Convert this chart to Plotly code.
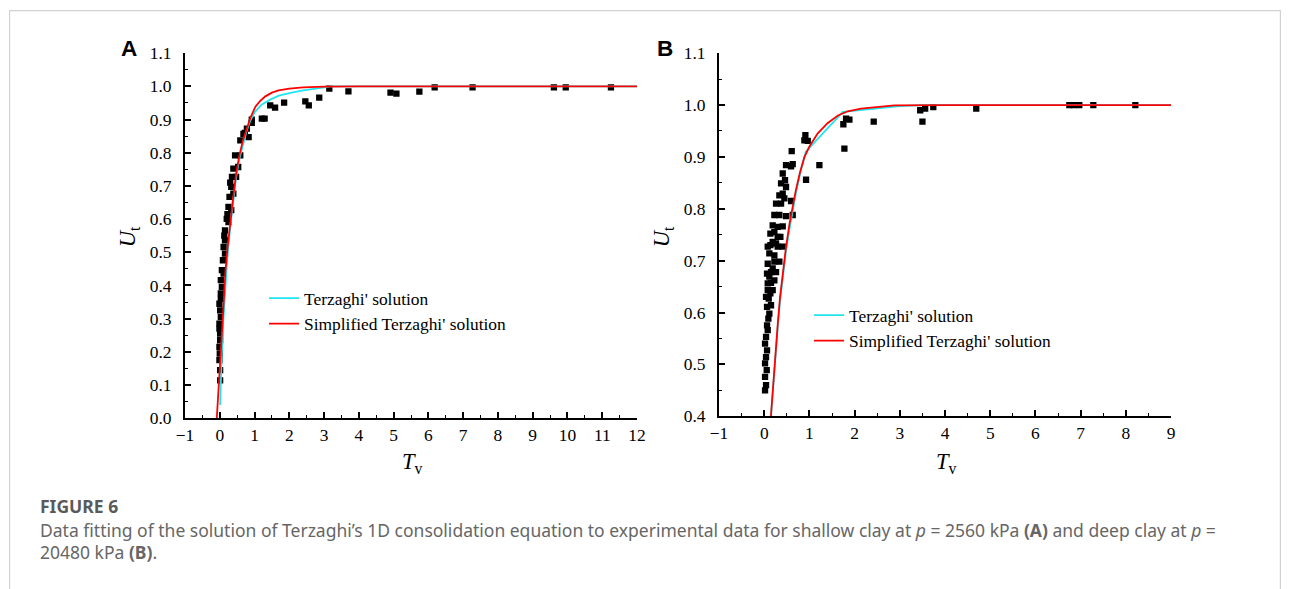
import plotly.graph_objects as go

W, H = 1290, 589

# ---------------- Panel A data ----------------
a_T = [0.01, 0.01, -0.01, 0.0, -0.01, 0.01, 0.01, -0.01, -0.01, 0.03, 0.01, -0.01, 0.03, 0.03,
       0.06, 0.03, 0.11, 0.06, 0.09, 0.15, 0.11, 0.15, 0.13, 0.15, 0.20, 0.25, 0.22, 0.25, 0.33,
       0.28, 0.39, 0.33, 0.30, 0.35, 0.47, 0.39, 0.53, 0.44, 0.59, 0.59, 0.68, 0.72, 0.83, 0.78,
       0.92, 0.92, 1.21, 1.29, 1.45, 1.59, 1.85, 2.46, 2.56, 2.86, 3.15, 3.70, 4.91, 5.08, 5.74,
       6.18, 7.27, 9.61, 9.95, 11.25]
a_U = [0.114, 0.145, 0.175, 0.195, 0.215, 0.235, 0.255, 0.27, 0.285, 0.305, 0.325, 0.345, 0.36,
       0.376, 0.396, 0.416, 0.436, 0.446, 0.476, 0.496, 0.516, 0.536, 0.55, 0.566, 0.601, 0.591,
       0.615, 0.637, 0.627, 0.667, 0.677, 0.697, 0.71, 0.727, 0.727, 0.752, 0.757, 0.792, 0.792,
       0.837, 0.857, 0.86, 0.847, 0.873, 0.89, 0.9, 0.903, 0.903, 0.943, 0.936, 0.951, 0.955,
       0.943, 0.966, 0.993, 0.985, 0.981, 0.978, 0.984, 0.997, 0.997, 0.997, 0.997, 0.997]

a_terz_T = [0.01, 0.03, 0.06, 0.10, 0.15, 0.22, 0.30, 0.38, 0.47, 0.56, 0.66, 0.76, 0.88, 1.0,
            1.2, 1.45, 1.7, 2.0, 2.4, 2.8, 3.2, 12]
a_terz_U = [0.04, 0.12, 0.20, 0.29, 0.39, 0.49, 0.575, 0.65, 0.725, 0.78, 0.825, 0.862, 0.897,
            0.922, 0.945, 0.96, 0.972, 0.98, 0.988, 0.995, 1.0, 1.0]

a_simp_T = [-0.086, -0.04, 0.0, 0.04, 0.08, 0.12, 0.16, 0.22, 0.30, 0.38, 0.47, 0.56, 0.66,
            0.76, 0.88, 1.02, 1.15, 1.31, 1.5, 1.69, 2.0, 2.4, 3.0, 4.0, 12]
a_simp_U = [0.0, 0.07, 0.14, 0.22, 0.29, 0.37, 0.44, 0.51, 0.59, 0.66, 0.737, 0.79, 0.835,
            0.87, 0.905, 0.938, 0.955, 0.97, 0.981, 0.988, 0.993, 0.997, 0.999, 1.0, 1.0]

# ---------------- Panel B data ----------------
b_T = [0.018, 0.04, 0.018, 0.055, 0.018, 0.04, 0.062, 0.018, 0.04, 0.077, 0.062, 0.091, 0.113,
       0.062, 0.150, 0.099, 0.04, 0.136, 0.077, 0.187, 0.150, 0.077, 0.224, 0.113, 0.062, 0.150,
       0.261, 0.187, 0.077, 0.224, 0.335, 0.113, 0.224, 0.077, 0.136, 0.261, 0.298, 0.409, 0.187,
       0.298, 0.357, 0.136, 0.224, 0.187, 0.298, 0.409, 0.224, 0.335, 0.482, 0.630, 0.261, 0.372,
       0.335, 0.409, 0.445, 0.593, 0.482, 0.372, 0.460, 0.409, 0.593, 0.482, 0.630, 0.608, 0.925,
       1.220, 0.888, 0.910, 0.962, 1.773, 1.750, 1.810, 1.884, 2.422, 3.45, 3.56, 3.50, 3.74,
       4.69, 6.75, 6.85, 6.97, 7.28, 8.21]
b_U = [0.450, 0.460, 0.476, 0.489, 0.502, 0.514, 0.527, 0.540, 0.553, 0.566, 0.575, 0.588, 0.598,
       0.611, 0.614, 0.627, 0.630, 0.637, 0.643, 0.643, 0.657, 0.656, 0.662, 0.669, 0.675, 0.678,
       0.678, 0.685, 0.694, 0.698, 0.698, 0.714, 0.710, 0.727, 0.730, 0.733, 0.727, 0.727, 0.736,
       0.746, 0.746, 0.752, 0.755, 0.768, 0.765, 0.766, 0.788, 0.788, 0.786, 0.788, 0.810, 0.810,
       0.826, 0.829, 0.820, 0.815, 0.842, 0.849, 0.855, 0.868, 0.882, 0.884, 0.886, 0.911, 0.856,
       0.884, 0.932, 0.942, 0.931, 0.916, 0.963, 0.974, 0.972, 0.968, 0.990, 0.993, 0.968, 0.996,
       0.993, 1.0, 1.0, 1.0, 1.0, 1.0]

b_terz_T = [0.148, 0.18, 0.22, 0.26, 0.30, 0.35, 0.41, 0.48, 0.56, 0.63, 0.70, 0.80, 0.92, 1.74,
            3.0, 3.5, 9]
b_terz_U = [0.40, 0.44, 0.48, 0.525, 0.573, 0.622, 0.668, 0.718, 0.762, 0.798, 0.83, 0.87, 0.91,
            0.987, 0.998, 1.0, 1.0]

b_simp_T = [0.148, 0.18, 0.22, 0.26, 0.30, 0.35, 0.41, 0.48, 0.56, 0.63, 0.70, 0.79, 0.89, 1.0,
            1.18, 1.4, 1.63, 1.85, 2.14, 2.88, 4.0, 9]
b_simp_U = [0.40, 0.44, 0.482, 0.53, 0.579, 0.63, 0.675, 0.725, 0.772, 0.805, 0.836, 0.87, 0.9,
            0.92, 0.945, 0.965, 0.98, 0.988, 0.993, 0.9995, 1.0, 1.0]

CYAN = "#22e5f0"
RED = "#ff0000"
SERIF = "Liberation Serif"

# target-pixel -> figure-pixel correction for the page's capture padding
OX, SX = 8.0, 0.986
OY, SY = 9.8, 0.966
FS = 1.025  # font compensation


def px_x(v):
    return ((v - OX) / SX) / W


def px_y(v):
    return 1 - ((v - OY) / SY) / H


fig = go.Figure()

# Panel A
fig.add_trace(go.Scatter(x=a_T, y=a_U, mode="markers", xaxis="x", yaxis="y",
                         marker=dict(symbol="square", size=6.3, color="black"), showlegend=False))
fig.add_trace(go.Scatter(x=a_terz_T, y=a_terz_U, mode="lines", xaxis="x", yaxis="y",
                         line=dict(color=CYAN, width=1.8), name="Terzaghi' solution", legend="legend"))
fig.add_trace(go.Scatter(x=a_simp_T, y=a_simp_U, mode="lines", xaxis="x", yaxis="y",
                         line=dict(color=RED, width=1.8), name="Simplified Terzaghi' solution",
                         legend="legend"))
# Panel B
fig.add_trace(go.Scatter(x=b_T, y=b_U, mode="markers", xaxis="x2", yaxis="y2",
                         marker=dict(symbol="square", size=6.3, color="black"), showlegend=False))
fig.add_trace(go.Scatter(x=b_terz_T, y=b_terz_U, mode="lines", xaxis="x2", yaxis="y2",
                         line=dict(color=CYAN, width=1.8), name="Terzaghi' solution", legend="legend2"))
fig.add_trace(go.Scatter(x=b_simp_T, y=b_simp_U, mode="lines", xaxis="x2", yaxis="y2",
                         line=dict(color=RED, width=1.8), name="Simplified Terzaghi' solution",
                         legend="legend2"))


def xax(domain, rng, anchor):
    return dict(domain=domain, range=rng, anchor=anchor, dtick=1, tick0=-1,
                showline=True, linecolor="black", linewidth=2, mirror=False,
                ticks="inside", ticklen=6, tickwidth=1.6, tickcolor="black",
                minor=dict(ticks="inside", ticklen=3, tickwidth=1.4, tickcolor="black", dtick=0.5),
                showgrid=False, zeroline=False, ticklabelstandoff=0,
                tickfont=dict(family=SERIF, size=17 * FS, color="black"))


def yax(domain, rng, anchor, tick0):
    return dict(domain=domain, range=rng, anchor=anchor, dtick=0.1, tick0=tick0,
                tickformat=".1f",
                showline=True, linecolor="black", linewidth=2, mirror=False,
                ticks="inside", ticklen=6, tickwidth=1.6, tickcolor="black",
                minor=dict(ticks="inside", ticklen=3, tickwidth=1.4, tickcolor="black", dtick=0.05),
                showgrid=False, zeroline=False, ticklabelstandoff=8,
                tickfont=dict(family=SERIF, size=17 * FS, color="black"))


fig.update_layout(
    width=W, height=H,
    margin=dict(l=0, r=0, t=0, b=0),
    paper_bgcolor="white", plot_bgcolor="white",
    xaxis=xax([px_x(184), px_x(636)], [-1, 12], "y"),
    yaxis=yax([px_y(418), px_y(53)], [0, 1.1], "x", 0),
    xaxis2=xax([px_x(718), px_x(1170)], [-1, 9], "y2"),
    yaxis2=yax([px_y(416), px_y(53)], [0.4, 1.1], "x2", 0.4),
    legend=dict(x=px_x(263), y=px_y(280), xanchor="left", yanchor="top",
                bgcolor="rgba(0,0,0,0)", font=dict(family=SERIF, size=17 * FS, color="black"),
                tracegroupgap=0),
    legend2=dict(x=px_x(808), y=px_y(297), xanchor="left", yanchor="top",
                 bgcolor="rgba(0,0,0,0)", font=dict(family=SERIF, size=17 * FS, color="black"),
                 tracegroupgap=0),
    showlegend=True,
)

ann = []
# axis titles
ann.append(dict(text="<i>U</i><sub>t</sub>", x=px_x(128), y=px_y(237), textangle=-90,
                font=dict(family=SERIF, size=22 * FS, color="black")))
ann.append(dict(text="<i>U</i><sub>t</sub>", x=px_x(662), y=px_y(237), textangle=-90,
                font=dict(family=SERIF, size=22 * FS, color="black")))
ann.append(dict(text="<i>T</i><sub>v</sub>", x=px_x(411), y=px_y(463),
                font=dict(family=SERIF, size=22 * FS, color="black")))
ann.append(dict(text="<i>T</i><sub>v</sub>", x=px_x(945), y=px_y(463),
                font=dict(family=SERIF, size=22 * FS, color="black")))
# panel labels
ann.append(dict(text="<b>A</b>", x=px_x(128), y=px_y(48),
                font=dict(family="Liberation Sans", size=22 * FS, color="black")))
ann.append(dict(text="<b>B</b>", x=px_x(664), y=px_y(48),
                font=dict(family="Liberation Sans", size=22 * FS, color="black")))
# caption
CAP = "Noto Sans"
CAP_SIZE = 17.5
ann.append(dict(text="<b>FIGURE 6</b>", x=px_x(37), y=px_y(506), xanchor="left",
                font=dict(family=CAP, size=CAP_SIZE, color="#5a5a5a")))
ann.append(dict(text="Data fitting of the solution of Terzaghi’s 1D consolidation equation to experimental data "
                     "for shallow clay at <i>p</i> = 2560 kPa <b>(A)</b> and deep clay at <i>p</i> =",
                x=px_x(37), y=px_y(530), xanchor="left",
                font=dict(family=CAP, size=CAP_SIZE, color="#666666")))
ann.append(dict(text="20480 kPa <b>(B)</b>.", x=px_x(37), y=px_y(552), xanchor="left",
                font=dict(family=CAP, size=CAP_SIZE, color="#666666")))
for a in ann:
    a.update(xref="paper", yref="paper", showarrow=False)
    a.setdefault("xanchor", "center")
    a.setdefault("yanchor", "middle")
fig.update_layout(annotations=ann)

# thin frame around the figure (clamped to the page edges)
fig.add_shape(type="rect", xref="paper", yref="paper",
              x0=0.6 / W, x1=1 - 0.6 / W, y0=-0.05, y1=1 - 0.6 / H,
              line=dict(color="#d2d2d2", width=1.2), fillcolor="rgba(0,0,0,0)", layer="below")

fig.write_html("out.html",
               config={"displayModeBar": False},
               post_script="document.body.style.margin='0';document.body.style.overflow='hidden';"
                           "document.documentElement.style.overflow='hidden';")
